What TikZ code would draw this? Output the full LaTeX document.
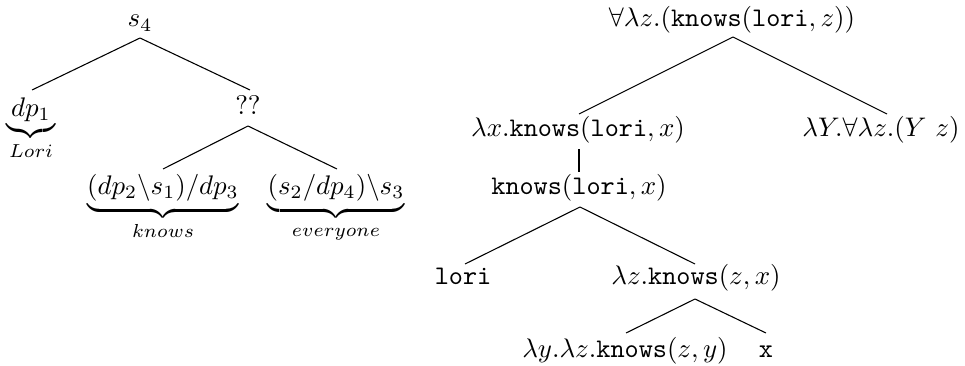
\documentclass[tikz,border=0pt]{standalone}
\usetikzlibrary{calc}
\begin{document}
\begin{tikzpicture}[x=0.372pt,y=-0.372pt,
  lbl/.style={inner sep=0pt, anchor=base},
  br/.style={draw, line width=0.4pt}]
\useasboundingbox (0,0) rectangle (965,365);
% left tree
\node[lbl] (s4) at (140,27) {$s_4$};
\node[lbl] (dp1) at (31,116) {$\underbrace{dp_1}_{Lori}$};
\node[lbl] (qq) at (248,115) {$??$};
\node[lbl] (kn) at (163,194) {$\underbrace{(dp_2\backslash s_1)/dp_3}_{knows}$};
\node[lbl] (ev) at (336,194) {$\underbrace{(s_2/dp_4)\backslash s_3}_{everyone}$};
\draw[br] ($(s4.base)+(0,11)$) -- ($(dp1.base)+(1,-26)$);
\draw[br] ($(s4.base)+(0,11)$) -- ($(qq.base)+(2,-25)$);
\draw[br] ($(qq.base)+(0,11)$) -- ($(kn.base)+(0,-25)$);
\draw[br] ($(qq.base)+(0,11)$) -- ($(ev.base)+(1,-25)$);
% right tree
\node[lbl] (r) at (732,27) {$\forall\lambda z.(\texttt{knows}(\texttt{lori},z))$};
\node[lbl] (lx) at (578,137) {$\lambda x.\texttt{knows}(\texttt{lori},x)$};
\node[lbl] (lY) at (881,137) {$\lambda Y.\forall\lambda z.(Y\ z)$};
\node[lbl] (k) at (579,194) {$\texttt{knows}(\texttt{lori},x)$};
\node[lbl] (lo) at (463,284) {\texttt{lori}};
\node[lbl] (lz) at (696,284) {$\lambda z.\texttt{knows}(z,x)$};
\node[lbl] (ly) at (625,357) {$\lambda y.\lambda z.\texttt{knows}(z,y)$};
\node[lbl] (xx) at (766,357) {\texttt{x}};
\draw[br] ($(r.base)+(1,10)$) -- ($(lx.base)+(1,-23)$);
\draw[br] ($(r.base)+(1,10)$) -- ($(lY.base)+(6,-23)$);
\draw[br] ($(lx.base)+(1,12)$) -- ($(k.base)+(0,-22)$);
\draw[br] ($(k.base)+(1,13)$) -- ($(lo.base)+(2,-20)$);
\draw[br] ($(k.base)+(1,13)$) -- ($(lz.base)+(-1,-20)$);
\draw[br] ($(lz.base)+(-1,15)$) -- ($(ly.base)+(1,-24)$);
\draw[br] ($(lz.base)+(-1,15)$) -- ($(xx.base)+(0,-24)$);
\end{tikzpicture}
\end{document}
